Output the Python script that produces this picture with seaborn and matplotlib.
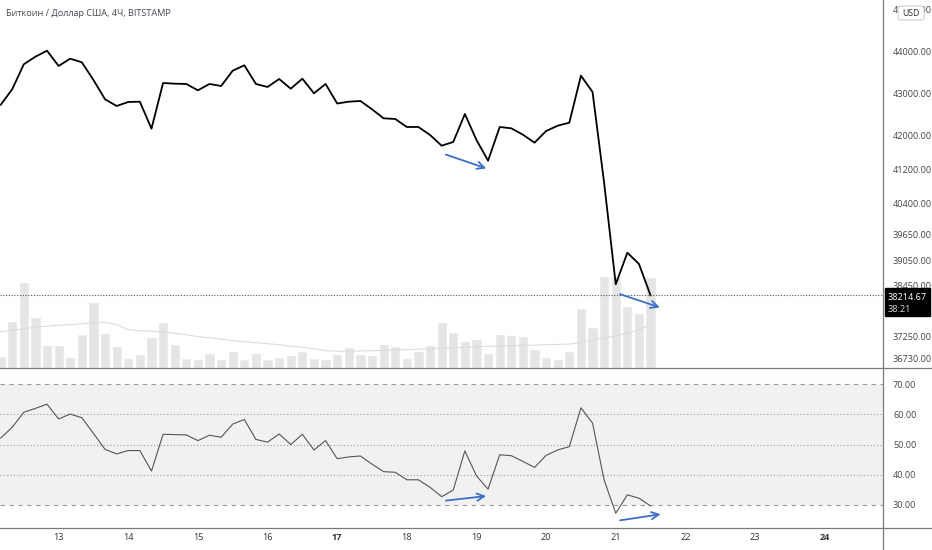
import pandas as pd
import numpy as np
import matplotlib
matplotlib.use("Agg")
import matplotlib.pyplot as plt
from matplotlib.lines import Line2D
from matplotlib.patches import Rectangle, FancyBboxPatch
import seaborn as sns

# --- данные (4Ч свечи, BITSTAMP) ---
start = pd.Timestamp("2022-01-12 04:00")
n_candles = 57

price = [42731, 43103, 43696, 43876, 44018, 43656, 43829, 43743, 43324, 42866,
         42707, 42802, 42809, 42169, 43252, 43236, 43229, 43079, 43229, 43181,
         43544, 43672, 43229, 43158, 43347, 43117, 43354, 43008, 43229, 42766,
         42809, 42826, 42629, 42415, 42399, 42209, 42209, 42020, 41766, 41854,
         42517, 41901, 41410, 42209, 42178, 42027, 41837, 42114, 42240, 42311,
         43426, 43039, 40880, 38480, 39229, 38961, 38214.67]

rsi = [52.1, 55.7, 60.7, 62.0, 63.4, 58.5, 60.1, 58.9, 53.7, 48.4,
       46.9, 48.0, 48.0, 41.2, 53.4, 53.3, 53.2, 51.3, 53.1, 52.4,
       56.8, 58.3, 51.7, 50.8, 53.5, 50.0, 53.4, 48.2, 51.3, 45.3,
       45.9, 46.2, 43.5, 41.0, 40.8, 38.3, 38.3, 35.8, 32.7, 34.9,
       47.9, 39.6, 35.2, 46.6, 46.3, 44.4, 42.4, 46.4, 48.2, 49.3,
       62.2, 57.1, 38.2, 27.2, 33.3, 32.2, 29.6]

volume = [117, 467, 854, 510, 224, 224, 110, 337, 654, 350,
          217, 94, 137, 307, 457, 237, 100, 90, 150, 84,
          167, 84, 144, 84, 104, 124, 167, 97, 84, 137,
          204, 137, 124, 237, 217, 97, 167, 224, 457, 354,
          264, 287, 147, 337, 327, 314, 184, 110, 84, 167,
          594, 407, 920, 920, 620, 544, 904]

volume_ma = [360, 375, 390, 405, 415, 425, 430, 440, 450, 455,
             430, 380, 370, 365, 355, 345, 330, 310, 300, 285,
             270, 260, 250, 240, 230, 215, 205, 190, 170, 165,
             165, 168, 170, 173, 176, 180, 185, 190, 195, 200,
             204, 208, 215, 217, 220, 223, 226, 230, 233, 237,
             250, 275, 297, 320, 347, 380, 427]

price_ticks = [45000, 44000, 43000, 42000, 41200, 40400, 39650, 39050, 38450, 37250, 36730]
rsi_ticks = [70, 60, 50, 40, 30]
days = pd.date_range("2022-01-13", "2022-01-24", freq="D")
bold_days = [17, 24]

last_price = "38214.67"
countdown = "38:21"
title = "Биткоин / Доллар США, 4Ч, BITSTAMP"

# стрелки дивергенции: (x0, y0, x1, y1) в свечах / ценах
price_arrows = [(38.14, 41576, 42.07, 41206), (53.14, 38266, 57.02, 37911)]
rsi_arrows = [(38.14, 31.3, 42.07, 33.0), (53.14, 24.7, 57.1, 27.0)]

# --- подготовка ---
times = pd.date_range(start, periods=n_candles, freq="4h")
df = pd.DataFrame({
    "t": (times - start) / pd.Timedelta("4h"),
    "price": price,
    "rsi": rsi,
    "volume": volume,
    "volume_ma": volume_ma,
})
day_pos = (days - start) / pd.Timedelta("4h")

sns.set_style("white")
plt.rcParams["font.family"] = ["Open Sans", "DejaVu Sans"]

W, H = 932, 550
fig = plt.figure(figsize=(W / 100, H / 100), dpi=100)
fig.patch.set_facecolor("white")

x_right = 883.3
sep_y = 367.7
bot_y = 527.7
xlim = (-0.05, 76.05)

rect_price = [0, (H - sep_y) / H, x_right / W, sep_y / H]
rect_rsi = [0, (H - bot_y) / H, x_right / W, (bot_y - sep_y) / H]

# объём — отдельная ось под графиком цены
axv = fig.add_axes(rect_price)
sns.barplot(data=df, x="t", y="volume", native_scale=True, color="#e5e5e5",
            width=0.88, errorbar=None, saturation=1, ax=axv)
sns.lineplot(data=df, x="t", y="volume_ma", color="#dcdcdc", lw=0.8,
             estimator=None, ax=axv)
axv.set_xlim(xlim)
axv.set_ylim(0, 3677)
axv.axis("off")

ax = fig.add_axes(rect_price)
ax.patch.set_alpha(0)
sns.lineplot(data=df, x="t", y="price", color="black", lw=1.3,
             estimator=None, ax=ax)
ax.axhline(float(last_price), color="#555555", lw=0.8, ls=(0, (1, 1.5)))
for x0, y0, x1, y1 in price_arrows:
    ax.annotate("", xy=(x1, y1), xytext=(x0, y0),
                arrowprops=dict(arrowstyle="->", color="#3d6fc7", lw=1.3,
                                mutation_scale=13))
ax.set_xlim(xlim)
ax.set_ylim(36502, 45220)
ax.yaxis.tick_right()
ax.set_yticks(price_ticks)
ax.set_yticklabels([f"{p:.2f}" for p in price_ticks])
ax.set_xticks([])
ax.tick_params(axis="y", length=0, pad=7, labelsize=6.6, labelcolor="#444444")
ax.set_xlabel("")
ax.set_ylabel("")
for s in ax.spines.values():
    s.set_visible(False)

# RSI
axr = fig.add_axes(rect_rsi)
axr.axhspan(30, 70, color="#f1f1f1", zorder=0, lw=0)
for lvl in [60, 50, 40]:
    axr.axhline(lvl, color="#9a9a9a", lw=0.8, ls=(0, (1, 2)))
for lvl in [70, 30]:
    axr.axhline(lvl, color="#9a9a9a", lw=0.8, ls=(0, (4, 4)))
sns.lineplot(data=df, x="t", y="rsi", color="#555555", lw=0.8,
             estimator=None, ax=axr)
for x0, y0, x1, y1 in rsi_arrows:
    axr.annotate("", xy=(x1, y1), xytext=(x0, y0),
                 arrowprops=dict(arrowstyle="->", color="#3d6fc7", lw=1.3,
                                 mutation_scale=13))
axr.set_xlim(xlim)
axr.set_ylim(22.4, 75.5)
axr.yaxis.tick_right()
axr.set_yticks(rsi_ticks)
axr.set_yticklabels([f"{v:.2f}" for v in rsi_ticks])
axr.set_xticks(day_pos)
axr.set_xticklabels([str(d.day) for d in days])
for lab, d in zip(axr.get_xticklabels(), days):
    if d.day in bold_days:
        lab.set_fontweight("bold")
axr.tick_params(axis="y", length=0, pad=7, labelsize=6.6, labelcolor="#444444")
axr.tick_params(axis="x", length=0, pad=4, labelsize=6.6, labelcolor="#333333")
axr.set_xlabel("")
axr.set_ylabel("")
for s in axr.spines.values():
    s.set_visible(False)

# рамки панелей
line_kw = dict(color="#7a7a7a", lw=0.9, transform=fig.transFigure)
fig.add_artist(Line2D([0, 1], [1 - sep_y / H] * 2, **line_kw))
fig.add_artist(Line2D([0, 1], [1 - bot_y / H] * 2, **line_kw))
fig.add_artist(Line2D([x_right / W] * 2, [0, 1], **line_kw))

# метка текущей цены
fig.add_artist(Rectangle((885 / W, 1 - 316 / H), 45 / W, 28 / H,
                         transform=fig.transFigure, color="black", zorder=10))
fig.text(888 / W, 1 - 297 / H, last_price, color="white", fontsize=6.6,
         va="center", ha="left", zorder=11)
fig.text(888 / W, 1 - 309.5 / H, countdown, color="#dddddd", fontsize=6.6,
         va="center", ha="left", zorder=11)

# USD
fig.add_artist(FancyBboxPatch((898 / W, 1 - 20 / H), 26 / W, 14 / H,
                              boxstyle="round,pad=0,rounding_size=0.004",
                              transform=fig.transFigure, facecolor="white",
                              edgecolor="#d0d0d0", lw=0.8, zorder=10))
fig.text(911 / W, 1 - 13 / H, "USD", color="#333333", fontsize=6.3,
         ha="center", va="center", zorder=11)

fig.text(6 / W, 1 - 13 / H, title, color="#434651", fontsize=6.6,
         ha="left", va="center")

fig.savefig("out.png", dpi=100)
